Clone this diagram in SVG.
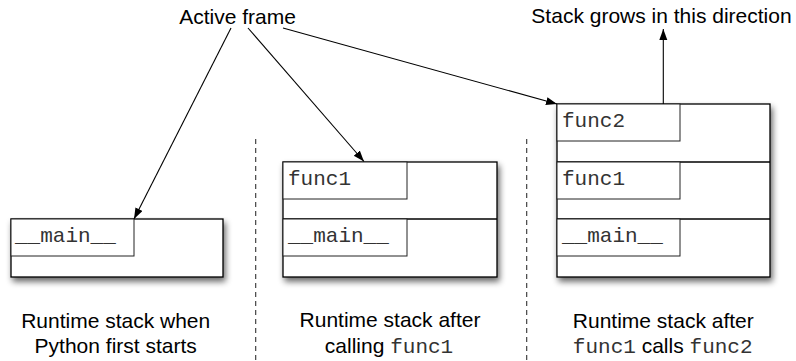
<svg xmlns="http://www.w3.org/2000/svg" width="796" height="361" viewBox="0 0 796 361">
<style>
.lbl{font-family:"Liberation Sans",Arial,sans-serif;font-size:21px;fill:#000;text-anchor:middle}
.mono{font-family:"Liberation Mono","Courier New",monospace;font-size:21px;fill:#333}
.outer{fill:#fff;stroke:#000;stroke-width:1.3}
.inner{fill:#fff;stroke:#222;stroke-width:1}
.div{stroke:#000;stroke-width:1.3}
.conn{stroke:#000;stroke-width:1.1;fill:none}
.dash{stroke:#333;stroke-width:1.1;stroke-dasharray:5 4}
</style>
<defs>
<filter id="sh" x="-10%" y="-10%" width="130%" height="140%">
<feGaussianBlur in="SourceAlpha" stdDeviation="3"/>
<feOffset dx="2" dy="4" result="b"/>
<feComponentTransfer><feFuncA type="linear" slope="0.6"/></feComponentTransfer>
<feMerge><feMergeNode/><feMergeNode in="SourceGraphic"/></feMerge>
</filter>
<marker id="ah" markerUnits="userSpaceOnUse" markerWidth="12" markerHeight="10" refX="11" refY="4" orient="auto">
<path d="M0,0 L11,4 L0,8 z" fill="#000"/>
</marker>
</defs>

<g id="stack1">
<rect class="outer" x="11" y="219" width="212" height="58" filter="url(#sh)"/>
<rect class="inner" x="11" y="219" width="123" height="37"/>
<text class="mono" x="15" y="242">__main__</text>
</g>

<g id="stack2">
<rect class="outer" x="283" y="162" width="214" height="115" filter="url(#sh)"/>
<line class="div" x1="283" y1="219" x2="497" y2="219"/>
<rect class="inner" x="283" y="162" width="124" height="37"/>
<text class="mono" x="288" y="185">func1</text>
<rect class="inner" x="283" y="219" width="124" height="37"/>
<text class="mono" x="288" y="242">__main__</text>
</g>

<g id="stack3">
<rect class="outer" x="557" y="104" width="213" height="173" filter="url(#sh)"/>
<line class="div" x1="557" y1="162" x2="770" y2="162"/>
<line class="div" x1="557" y1="219" x2="770" y2="219"/>
<rect class="inner" x="557" y="104" width="123" height="37"/>
<text class="mono" x="562" y="127">func2</text>
<rect class="inner" x="557" y="162" width="123" height="37"/>
<text class="mono" x="562" y="185">func1</text>
<rect class="inner" x="557" y="219" width="123" height="37"/>
<text class="mono" x="562" y="242">__main__</text>
</g>

<g id="separators">
<line class="dash" x1="255.7" y1="139" x2="255.7" y2="361"/>
<line class="dash" x1="526.7" y1="139" x2="526.7" y2="361"/>
</g>

<g id="connectors">
<line class="conn" x1="231" y1="28" x2="134" y2="219" marker-end="url(#ah)"/>
<line class="conn" x1="248" y1="28" x2="364" y2="161.5" marker-end="url(#ah)"/>
<line class="conn" x1="283" y1="28" x2="557" y2="104" marker-end="url(#ah)"/>
<line class="conn" x1="663.3" y1="104" x2="663.3" y2="29" marker-end="url(#ah)"/>
</g>

<g id="labels">
<text class="lbl" x="237.5" y="24">Active frame</text>
<text class="lbl" x="661.5" y="23">Stack grows in this direction</text>
<text class="lbl" x="115.7" y="328">Runtime stack when</text>
<text class="lbl" x="115.7" y="353">Python first starts</text>
<text class="lbl" x="390" y="327">Runtime stack after</text>
<text class="lbl" x="389" y="353">calling <tspan class="mono">func1</tspan></text>
<text class="lbl" x="663.3" y="328">Runtime stack after</text>
<text class="lbl" x="662.7" y="353"><tspan class="mono">func1</tspan> calls <tspan class="mono">func2</tspan></text>
</g>
</svg>
